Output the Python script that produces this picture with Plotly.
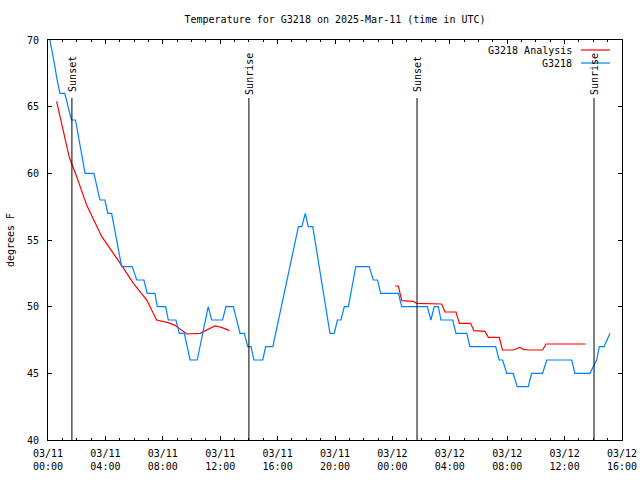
import plotly.graph_objects as go

# ---- data ----
obs_times = [
    "2025-03-11 00:08", "2025-03-11 00:20", "2025-03-11 00:29", "2025-03-11 00:38",
    "2025-03-11 00:50", "2025-03-11 01:10", "2025-03-11 01:38", "2025-03-11 01:55",
    "2025-03-11 02:35", "2025-03-11 03:12", "2025-03-11 03:37", "2025-03-11 03:58",
    "2025-03-11 04:10", "2025-03-11 04:26", "2025-03-11 05:08", "2025-03-11 05:52",
    "2025-03-11 06:11", "2025-03-11 06:41", "2025-03-11 06:55", "2025-03-11 07:27",
    "2025-03-11 07:37", "2025-03-11 08:12", "2025-03-11 08:23", "2025-03-11 08:55",
    "2025-03-11 09:09", "2025-03-11 09:30", "2025-03-11 09:54", "2025-03-11 10:24",
    "2025-03-11 11:10", "2025-03-11 11:24", "2025-03-11 12:10", "2025-03-11 12:24",
    "2025-03-11 12:55", "2025-03-11 13:23", "2025-03-11 13:41", "2025-03-11 13:55",
    "2025-03-11 14:09", "2025-03-11 14:21", "2025-03-11 14:58", "2025-03-11 15:10",
    "2025-03-11 15:40", "2025-03-11 17:27", "2025-03-11 17:41", "2025-03-11 17:56",
    "2025-03-11 18:08", "2025-03-11 18:27", "2025-03-11 19:39", "2025-03-11 19:57",
    "2025-03-11 20:10", "2025-03-11 20:25", "2025-03-11 20:39", "2025-03-11 20:56",
    "2025-03-11 21:27", "2025-03-11 22:23", "2025-03-11 22:40", "2025-03-11 22:58",
    "2025-03-11 23:11", "2025-03-12 00:25", "2025-03-12 00:39", "2025-03-12 02:26",
    "2025-03-12 02:41", "2025-03-12 02:55", "2025-03-12 03:12", "2025-03-12 03:23",
    "2025-03-12 04:12", "2025-03-12 04:26", "2025-03-12 05:11", "2025-03-12 05:24",
    "2025-03-12 07:12", "2025-03-12 07:26", "2025-03-12 07:41", "2025-03-12 07:58",
    "2025-03-12 08:25", "2025-03-12 08:42", "2025-03-12 09:28", "2025-03-12 09:42",
    "2025-03-12 10:28", "2025-03-12 10:45", "2025-03-12 12:30", "2025-03-12 12:43",
    "2025-03-12 13:46", "2025-03-12 14:14", "2025-03-12 14:25", "2025-03-12 14:45",
    "2025-03-12 15:10",
]
obs_temps = [
    70, 69, 68, 67,
    66, 66, 64, 64,
    60, 60, 58, 58,
    57, 57, 53, 53,
    52, 52, 51, 51,
    50, 50, 49, 49,
    48, 48, 46, 46,
    50, 49, 49, 50,
    50, 48, 48, 47,
    47, 46, 46, 47,
    47, 56, 56, 57,
    56, 56, 48, 48,
    49, 49, 50, 50,
    53, 53, 52, 52,
    51, 51, 50, 50,
    49, 50, 50, 49,
    49, 48, 48, 47,
    47, 46, 46, 45,
    45, 44, 44, 45,
    45, 46, 46, 45,
    45, 46, 47, 47,
    48,
]

ana_times = [
    "2025-03-11 00:36", "2025-03-11 01:29", "2025-03-11 02:00", "2025-03-11 02:42",
    "2025-03-11 03:45", "2025-03-11 04:19", "2025-03-11 05:08", "2025-03-11 05:57",
    "2025-03-11 06:53", "2025-03-11 07:34", "2025-03-11 08:23", "2025-03-11 08:51",
    "2025-03-11 09:40", "2025-03-11 10:36", "2025-03-11 11:38", "2025-03-11 12:06",
    "2025-03-11 12:38",
    None,
    "2025-03-12 00:11", "2025-03-12 00:25", "2025-03-12 00:39", "2025-03-12 01:27",
    "2025-03-12 01:41", "2025-03-12 02:34", "2025-03-12 03:26", "2025-03-12 03:40",
    "2025-03-12 04:26", "2025-03-12 04:40", "2025-03-12 05:27", "2025-03-12 05:41",
    "2025-03-12 06:27", "2025-03-12 06:41", "2025-03-12 07:27", "2025-03-12 07:40",
    "2025-03-12 08:25", "2025-03-12 08:53", "2025-03-12 09:07", "2025-03-12 09:32",
    "2025-03-12 10:28", "2025-03-12 10:42", "2025-03-12 13:28",
]
ana_temps = [
    65.4, 61.2, 59.75, 57.6,
    55.25, 54.4, 53.1, 51.75,
    50.5, 49.0, 48.8, 48.6,
    47.95, 48.0, 48.55, 48.45,
    48.2,
    None,
    51.55, 51.55, 50.45, 50.4,
    50.25, 50.2, 50.2, 49.6,
    49.6, 48.75, 48.75, 48.2,
    48.15, 47.7, 47.7, 46.75,
    46.75, 46.95, 46.8, 46.75,
    46.75, 47.2, 47.2,
]

sun_times = ["2025-03-11 01:40", "2025-03-11 14:00", "2025-03-12 01:43", "2025-03-12 14:03"]
sun_labels = ["Sunset", "Sunrise", "Sunset", "Sunrise"]

tick_vals = ["2025-03-11 00:00", "2025-03-11 04:00", "2025-03-11 08:00", "2025-03-11 12:00",
             "2025-03-11 16:00", "2025-03-11 20:00", "2025-03-12 00:00", "2025-03-12 04:00",
             "2025-03-12 08:00", "2025-03-12 12:00", "2025-03-12 16:00"]
tick_text = ["03/11<br>00:00", "03/11<br>04:00", "03/11<br>08:00", "03/11<br>12:00",
             "03/11<br>16:00", "03/11<br>20:00", "03/12<br>00:00", "03/12<br>04:00",
             "03/12<br>08:00", "03/12<br>12:00", "03/12<br>16:00"]

series_names = ["G3218 Analysis", "G3218"]
RED = "#ff0000"
BLUE = "#0080ff"
FONT = "DejaVu Sans Mono"

fig = go.Figure()
fig.add_trace(go.Scatter(x=ana_times, y=ana_temps, mode="lines", name=series_names[0],
                         line=dict(color=RED, width=1.2), connectgaps=False, showlegend=False))
fig.add_trace(go.Scatter(x=obs_times, y=obs_temps, mode="lines", name=series_names[1],
                         line=dict(color=BLUE, width=1.2), showlegend=False, cliponaxis=True))

# sunrise / sunset markers
for t, lab in zip(sun_times, sun_labels):
    fig.add_shape(type="line", xref="x", yref="paper", x0=t, x1=t, y0=0, y1=0.855,
                  line=dict(color="black", width=1))
    fig.add_annotation(x=t, xref="x", y=0.915, yref="paper", text=lab, textangle=-90,
                       xanchor="center", yanchor="middle",
                       showarrow=False, xshift=1, font=dict(family=FONT, size=10, color="black"))

# legend (gnuplot style: text then line sample on the right)
for i, (name, col) in enumerate(zip(series_names, [RED, BLUE])):
    yp = 0.975 - i * 0.0325
    fig.add_annotation(x=0.9164, xref="paper", y=yp, yref="paper", text=name,
                       xanchor="right", yanchor="middle", showarrow=False,
                       font=dict(family=FONT, size=10, color="black"))
    fig.add_shape(type="line", xref="paper", yref="paper", x0=0.9286, x1=0.979,
                  y0=yp, y1=yp, line=dict(color=col, width=1.2))

fig.update_layout(
    width=640, height=480,
    margin=dict(l=48, r=18, t=40, b=40, autoexpand=False),
    paper_bgcolor="white", plot_bgcolor="white",
    font=dict(family=FONT, size=10, color="black"),
    title=dict(text="Temperature for G3218 on 2025-Mar-11 (time in UTC)",
               x=0.5, xref="paper", xanchor="center", y=1 - 19 / 480, yref="container",
               yanchor="middle",
               font=dict(family=FONT, size=10, color="black")),
    showlegend=False,
)
fig.update_xaxes(
    range=["2025-03-11 00:00", "2025-03-12 16:00"],
    tickmode="array", tickvals=tick_vals, ticktext=tick_text,
    ticks="inside", ticklen=4, tickcolor="black", tickwidth=1,
    minor=dict(tickmode="linear", tick0="2025-03-11 00:00", dtick=3600000,
               ticks="inside", ticklen=2, tickcolor="black", tickwidth=1, showgrid=False),
    showline=True, linecolor="black", linewidth=1, mirror="ticks",
    showgrid=False, zeroline=False, ticklabelstandoff=4, automargin=False,
    tickfont=dict(family=FONT, size=10, color="black"),
)
fig.update_yaxes(
    range=[40, 70], dtick=5, tick0=40,
    ticks="inside", ticklen=4, tickcolor="black", tickwidth=1,
    showline=True, linecolor="black", linewidth=1, mirror="ticks",
    showgrid=False, zeroline=False, ticklabelstandoff=6, automargin=False,
    title=dict(text="degrees F", standoff=10, font=dict(family=FONT, size=10, color="black")),
    tickfont=dict(family=FONT, size=10, color="black"),
)

fig.write_html("out.html",
               config={"displayModeBar": False},
               post_script="document.body.style.margin='0px';document.body.style.overflow='hidden';")
